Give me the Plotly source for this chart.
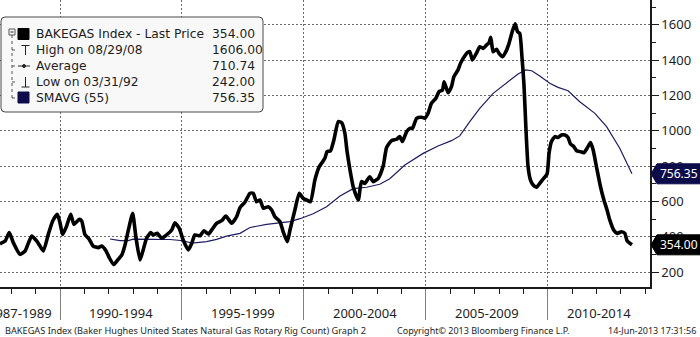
import plotly.graph_objects as go

# Baker Hughes US natural gas rotary rig count (decimal year, rigs)
rig_years = [
    1987.54, 1987.75, 1987.92, 1988.09, 1988.36, 1988.57, 1988.84, 1989.05, 1989.18, 1989.32,
    1989.52, 1989.70, 1989.89, 1990.00, 1990.11, 1990.27, 1990.44, 1990.57, 1990.79, 1990.89,
    1991.02, 1991.20, 1991.36, 1991.57, 1991.71, 1991.89, 1992.02, 1992.20, 1992.39, 1992.53,
    1992.66, 1992.80, 1992.98, 1993.11, 1993.28, 1993.41, 1993.55, 1993.72, 1993.82, 1993.99,
    1994.17, 1994.37, 1994.58, 1994.71, 1994.89, 1995.05, 1995.26, 1995.40, 1995.53, 1995.74,
    1995.90, 1996.08, 1996.22, 1996.42, 1996.63, 1996.80, 1997.04, 1997.24, 1997.38, 1997.58,
    1997.79, 1997.92, 1998.06, 1998.20, 1998.34, 1998.54, 1998.68, 1998.81, 1999.02, 1999.15,
    1999.32, 1999.43, 1999.63, 1999.81, 1999.97, 2000.11, 2000.27, 2000.45, 2000.63, 2000.77,
    2000.86, 2000.95, 2001.09, 2001.23, 2001.41, 2001.55, 2001.68, 2001.77, 2001.89, 2002.02,
    2002.23, 2002.36, 2002.50, 2002.70, 2002.84, 2003.05, 2003.25, 2003.39, 2003.59, 2003.80,
    2003.93, 2004.04, 2004.21, 2004.34, 2004.45, 2004.62, 2004.82, 2004.96, 2005.09, 2005.23,
    2005.41, 2005.54, 2005.68, 2005.75, 2005.91, 2006.05, 2006.15, 2006.32, 2006.42, 2006.53,
    2006.69, 2006.80, 2006.91, 2007.08, 2007.21, 2007.35, 2007.49, 2007.59, 2007.66, 2007.76,
    2007.90, 2008.00, 2008.14, 2008.31, 2008.41, 2008.54, 2008.66, 2008.76, 2008.85, 2008.94,
    2009.02, 2009.10, 2009.19, 2009.29, 2009.40, 2009.54, 2009.67, 2009.81, 2009.97, 2010.05,
    2010.15, 2010.29, 2010.42, 2010.56, 2010.70, 2010.83, 2010.93, 2011.07, 2011.18, 2011.34,
    2011.48, 2011.61, 2011.75, 2011.86, 2012.02, 2012.16, 2012.30, 2012.43, 2012.54, 2012.70,
    2012.84, 2013.02, 2013.16, 2013.25, 2013.45,
]
rig_counts = [
    360, 375, 423, 365, 300, 319, 404, 375, 347, 319,
    413, 489, 527, 479, 413, 460, 527, 470, 498, 489,
    413, 385, 347, 338, 347, 319, 281, 242, 272, 295,
    350, 436, 532, 400, 268, 325, 391, 423, 410, 419,
    391, 410, 438, 479, 447, 381, 325, 362, 410, 405,
    434, 415, 438, 476, 491, 517, 476, 513, 565, 595,
    646, 646, 598, 608, 561, 570, 551, 513, 485, 428,
    372, 438, 551, 646, 617, 608, 598, 721, 797, 825,
    844, 882, 886, 948, 1052, 1046, 986, 882, 778, 683,
    608, 712, 702, 740, 712, 731, 800, 905, 944, 952,
    967, 939, 995, 1014, 1014, 1071, 1077, 1071, 1099, 1156,
    1184, 1222, 1231, 1278, 1216, 1250, 1307, 1345, 1382, 1410,
    1442, 1448, 1401, 1442, 1476, 1467, 1486, 1499, 1529, 1448,
    1462, 1439, 1420, 1457, 1495, 1561, 1606, 1561, 1552, 1420,
    1269, 1023, 797, 721, 693, 680, 702, 727, 755, 872,
    939, 967, 962, 976, 976, 962, 925, 910, 887, 882,
    876, 901, 933, 891, 778, 683, 608, 551, 495, 438,
    419, 428, 419, 377, 354,
]

# 55-period simple moving average
sma_years = [
    1992.05, 1992.46, 1992.80, 1993.00, 1993.82, 1994.51, 1995.05, 1995.40, 1996.01, 1996.42,
    1996.83, 1997.38, 1997.79, 1998.47, 1999.43, 1999.84, 2000.38, 2000.93, 2001.48, 2002.02,
    2002.57, 2003.11, 2003.52, 2004.14, 2004.89, 2005.50, 2006.05, 2006.39, 2006.80, 2007.21,
    2007.76, 2008.31, 2008.78, 2009.10, 2009.34, 2009.67, 2010.08, 2010.42, 2010.83, 2011.31,
    2011.93, 2012.41, 2012.95, 2013.45,
]
sma_values = [
    387, 378, 378, 386, 385, 384, 377, 364, 372, 385,
    403, 419, 452, 470, 485, 502, 530, 570, 630, 672,
    680, 697, 728, 806, 872, 914, 944, 971, 1052, 1127,
    1212, 1269, 1322, 1345, 1340, 1310, 1269, 1246, 1227, 1165,
    1099, 1023, 901, 756.35,
]

# Legend rows
legend_labels = ["BAKEGAS Index - Last Price", "High on 08/29/08", "Average",
                 "Low on 03/31/92", "SMAVG (55)"]
legend_values = ["354.00", "1606.00", "710.74", "242.00", "756.35"]

# Period labels under the time axis and where they sit
period_labels = ["1987-1989", "1990-1994", "1995-1999", "2000-2004", "2005-2009", "2010-2014"]
period_centers = [1988.36, 1992.5, 1997.5, 2002.5, 2007.5, 2012.1]

y_ticks = [200, 400, 600, 800, 1000, 1200, 1400, 1600]

X_RANGE = [1987.54, 2014.19]
Y_RANGE = [115, 1741]
PLOT_W, PLOT_H = 650, 287
NAVY = "#0c0c4a"
FONT = "Noto Sans"
LEGEND_FONT = "DejaVu Sans"
TXT = "#1e1e1e"


def px(x):
    return x / PLOT_W


def py(y):
    return 1 - y / PLOT_H


def yfrac(v):
    return (v - Y_RANGE[0]) / (Y_RANGE[1] - Y_RANGE[0])


fig = go.Figure()

fig.add_trace(go.Scatter(
    x=sma_years, y=sma_values, mode="lines",
    line=dict(color="#1c1c62", width=1.2), hoverinfo="skip",
))
fig.add_trace(go.Scatter(
    x=rig_years, y=rig_counts, mode="lines",
    line=dict(color="black", width=3.6, shape="spline", smoothing=0.5),
    hoverinfo="skip",
))
# arrow heads on the right-hand major ticks
fig.add_trace(go.Scatter(
    x=[X_RANGE[1] + 0.15] * len(y_ticks), y=y_ticks, mode="markers",
    marker=dict(symbol="triangle-right", size=6, color="#111"),
    cliponaxis=False, hoverinfo="skip",
))

shapes = []
annotations = []

# legend panel
x0, y0, x1, y1, r = 1, 17, 263, 112, 4
path = (f"M {px(x0 + r)},{py(y0)} L {px(x1 - r)},{py(y0)} Q {px(x1)},{py(y0)} {px(x1)},{py(y0 + r)} "
        f"L {px(x1)},{py(y1 - r)} Q {px(x1)},{py(y1)} {px(x1 - r)},{py(y1)} "
        f"L {px(x0 + r)},{py(y1)} Q {px(x0)},{py(y1)} {px(x0)},{py(y1 - r)} "
        f"L {px(x0)},{py(y0 + r)} Q {px(x0)},{py(y0)} {px(x0 + r)},{py(y0)} Z")
shapes.append(dict(type="path", xref="paper", yref="paper", path=path,
                   fillcolor="#f8f8f8", line=dict(color="#4a4a4a", width=1), layer="above"))

rows = [34, 50, 66, 82, 98]


def seg(xa, ya, xb, yb, color="#222", width=1, dash="solid"):
    shapes.append(dict(type="line", xref="paper", yref="paper",
                       x0=px(xa), y0=py(ya), x1=px(xb), y1=py(yb),
                       line=dict(color=color, width=width, dash=dash), layer="above"))


def box(xa, ya, xb, yb, fill, line_color=None):
    shapes.append(dict(type="rect", xref="paper", yref="paper",
                       x0=px(xa), y0=py(ya), x1=px(xb), y1=py(yb), fillcolor=fill,
                       line=dict(color=line_color or fill, width=1), layer="above"))


# tree connector
seg(12, 35, 12, rows[4], color="#555", dash="dot")
for ry in rows[1:]:
    seg(12, ry, 17, ry, color="#555", dash="dot")
box(9, 29, 15, 35, "#f8f8f8", "#555")
seg(10.5, 32, 13.5, 32, color="#222")
# icons
box(18, 28.5, 29, 39.5, "black")
seg(21.5, 45.5, 29.5, 45.5)
seg(25.5, 45.5, 25.5, 55)
seg(18, rows[2], 30, rows[2])
shapes.append(dict(type="circle", xref="paper", yref="paper", x0=px(22.5), y0=py(64.5), x1=px(25.5),
                   y1=py(67.5), fillcolor="#222", line=dict(color="#222", width=1), layer="above"))
seg(25.5, 77, 25.5, 87)
seg(21.5, 87, 29.5, 87)
box(18, 92, 29, 103, NAVY)

# legend text: one block per column, 16 px line pitch
legend_font = dict(family=LEGEND_FONT, size=12.3, color=TXT)
annotations.append(dict(xref="paper", yref="paper", x=px(35), y=py(rows[2]),
                        text="<br>".join(legend_labels), align="left",
                        xanchor="left", yanchor="middle", showarrow=False,
                        borderpad=0, font=legend_font))
annotations.append(dict(xref="paper", yref="paper", x=px(211), y=py(rows[2]),
                        text="<br>".join(legend_values), align="left",
                        xanchor="left", yanchor="middle", showarrow=False,
                        borderpad=0, font=legend_font))

# period labels
for lab, xc in zip(period_labels, period_centers):
    annotations.append(dict(xref="x", yref="paper", x=xc, y=py(313), text=lab,
                            xanchor="center", yanchor="middle", showarrow=False,
                            font=dict(family=FONT, size=13, color=TXT)))

# last-value tags on the right axis
for v, fill in [(sma_values[-1], NAVY), (rig_counts[-1], "black")]:
    yc = yfrac(v)
    h = 10 / PLOT_H
    tag = (f"M {px(651)},{yc} L {px(657)},{yc + h} L {px(700)},{yc + h} "
           f"L {px(700)},{yc - h} L {px(657)},{yc - h} Z")
    shapes.append(dict(type="path", xref="paper", yref="paper", path=tag,
                       fillcolor=fill, line=dict(color=fill, width=1), layer="above"))
    annotations.append(dict(xref="paper", yref="paper", x=px(679), y=yc, text=f"{v:.2f}",
                            xanchor="center", yanchor="middle", showarrow=False,
                            font=dict(family=FONT, size=12, color="white")))

# footer
foot_y = py(330)
annotations += [
    dict(xref="paper", yref="paper", x=px(3), y=foot_y, xanchor="left", yanchor="middle",
         text="BAKEGAS Index (Baker Hughes United States Natural Gas Rotary Rig Count) Graph 2",
         showarrow=False, font=dict(family=FONT, size=9.2, color=TXT)),
    dict(xref="paper", yref="paper", x=px(395), y=foot_y, xanchor="left", yanchor="middle",
         text="Copyright© 2013 Bloomberg Finance L.P.",
         showarrow=False, font=dict(family=FONT, size=9, color=TXT)),
    dict(xref="paper", yref="paper", x=px(698), y=foot_y, xanchor="right", yanchor="middle",
         text="14-Jun-2013 17:31:56",
         showarrow=False, font=dict(family=FONT, size=9, color=TXT)),
]

grid = dict(gridcolor="#6a6a6a", gridwidth=1, griddash="2px,2px")

fig.update_layout(
    width=700, height=337,
    margin=dict(l=0, r=50, t=0, b=50, pad=0),
    paper_bgcolor="white", plot_bgcolor="white",
    showlegend=False,
    shapes=shapes, annotations=annotations,
    xaxis=dict(
        range=X_RANGE, tick0=1990, dtick=5, showticklabels=False,
        ticks="outside", ticklen=31, tickcolor="#808080", tickwidth=1,
        showgrid=True, **grid, zeroline=False,
        showline=True, linecolor="#1a1a1a", linewidth=1.5,
        minor=dict(tick0=1990, dtick=1, ticks="outside", ticklen=5,
                   tickcolor="#1a1a1a", tickwidth=1, showgrid=False),
    ),
    yaxis=dict(
        range=Y_RANGE, side="right", tickmode="array", tickvals=y_ticks,
        ticks="outside", ticklen=7, tickcolor="#1a1a1a", tickwidth=1,
        tickfont=dict(family=FONT, size=13, color=TXT),
        showgrid=True, **grid, zeroline=False,
        showline=True, linecolor="#1a1a1a", linewidth=1.5,
        minor=dict(dtick=100, tick0=100, ticks="outside", ticklen=4,
                   tickcolor="#1a1a1a", tickwidth=1, showgrid=False),
    ),
)

fig.write_html("out.html")
